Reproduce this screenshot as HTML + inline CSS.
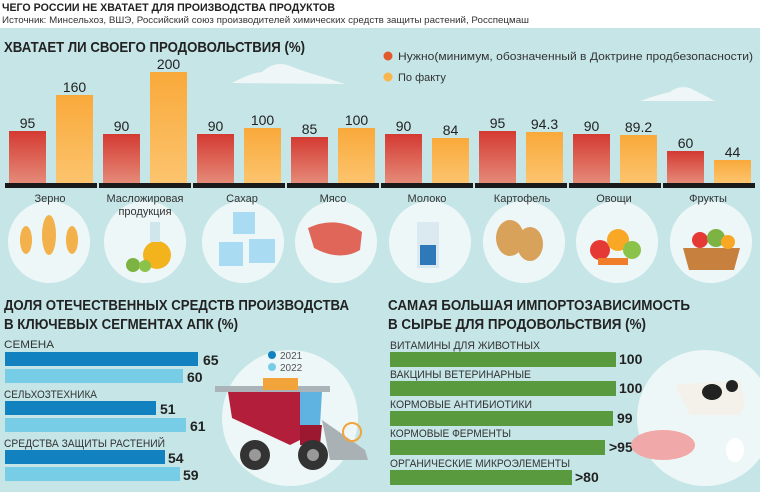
<!DOCTYPE html>
<html><head><meta charset="utf-8"><style>
body{margin:0;width:760px;height:487px;overflow:hidden;background:#c5e5e7;font-family:"Liberation Sans",sans-serif;}
</style></head><body>
<svg width="760" height="487" xmlns="http://www.w3.org/2000/svg" font-family="Liberation Sans, sans-serif">
<defs>
<linearGradient id="r" x1="0" y1="0" x2="0" y2="1"><stop offset="0" stop-color="#d43a32"/><stop offset="1" stop-color="#e58a78"/></linearGradient>
<linearGradient id="o" x1="0" y1="0" x2="0" y2="1"><stop offset="0" stop-color="#f9a93a"/><stop offset="1" stop-color="#fcc46e"/></linearGradient>
</defs>
<rect x="0" y="0" width="760" height="28" fill="#fff"/>
<text x="2" y="11" font-size="11" font-weight="bold" fill="#222" textLength="333" lengthAdjust="spacingAndGlyphs">ЧЕГО РОССИИ НЕ ХВАТАЕТ ДЛЯ ПРОИЗВОДСТВА ПРОДУКТОВ</text>
<text x="2" y="23" font-size="9.5" fill="#333" textLength="527" lengthAdjust="spacingAndGlyphs">Источник: Минсельхоз, ВШЭ, Российский союз производителей химических средств защиты растений, Росспецмаш</text>
<text x="4" y="52" font-size="15" font-weight="bold" fill="#222" textLength="301" lengthAdjust="spacingAndGlyphs">ХВАТАЕТ ЛИ СВОЕГО ПРОДОВОЛЬСТВИЯ (%)</text>
<path d="M232 83 Q250 73 262 72 Q275 60 290 66 Q305 72 320 76 L345 84 Z" fill="#eef6f7"/>
<path d="M640 101 Q660 94 670 92 Q678 85 690 88 Q700 93 715 101 Z" fill="#eef6f7"/>
<circle cx="388" cy="56" r="4.5" fill="#e2592b"/>
<text x="398" y="60" font-size="11" fill="#333" textLength="355" lengthAdjust="spacingAndGlyphs">Нужно(минимум, обозначенный в Доктрине продбезопасности)</text>
<circle cx="388" cy="77" r="4.5" fill="#f9b54a"/>
<text x="398" y="81" font-size="11" fill="#333">По факту</text>
<g font-size="14" fill="#222" text-anchor="middle">
<g>
<rect x="9" y="131" width="37" height="52" fill="url(#r)"/><text x="27.5" y="128">95</text>
<rect x="56" y="95" width="37" height="88" fill="url(#o)"/><text x="74.5" y="92">160</text>
</g>
<g transform="translate(94,0)">
<rect x="9" y="134" width="37" height="49" fill="url(#r)"/><text x="27.5" y="131">90</text>
<rect x="56" y="72" width="37" height="111" fill="url(#o)"/><text x="74.5" y="69">200</text>
</g>
<g transform="translate(188,0)">
<rect x="9" y="134" width="37" height="49" fill="url(#r)"/><text x="27.5" y="131">90</text>
<rect x="56" y="128" width="37" height="55" fill="url(#o)"/><text x="74.5" y="125">100</text>
</g>
<g transform="translate(282,0)">
<rect x="9" y="137" width="37" height="46" fill="url(#r)"/><text x="27.5" y="134">85</text>
<rect x="56" y="128" width="37" height="55" fill="url(#o)"/><text x="74.5" y="125">100</text>
</g>
<g transform="translate(376,0)">
<rect x="9" y="134" width="37" height="49" fill="url(#r)"/><text x="27.5" y="131">90</text>
<rect x="56" y="138" width="37" height="45" fill="url(#o)"/><text x="74.5" y="135">84</text>
</g>
<g transform="translate(470,0)">
<rect x="9" y="131" width="37" height="52" fill="url(#r)"/><text x="27.5" y="128">95</text>
<rect x="56" y="132" width="37" height="51" fill="url(#o)"/><text x="74.5" y="129">94.3</text>
</g>
<g transform="translate(564,0)">
<rect x="9" y="134" width="37" height="49" fill="url(#r)"/><text x="27.5" y="131">90</text>
<rect x="56" y="135" width="37" height="48" fill="url(#o)"/><text x="74.5" y="132">89.2</text>
</g>
<g transform="translate(658,0)">
<rect x="9" y="151" width="37" height="32" fill="url(#r)"/><text x="27.5" y="148">60</text>
<rect x="56" y="160" width="37" height="23" fill="url(#o)"/><text x="74.5" y="157">44</text>
</g>
</g>
<g fill="#1a1a1a">
<rect x="5" y="183" width="92" height="5"/><rect x="99" y="183" width="92" height="5"/><rect x="193" y="183" width="92" height="5"/><rect x="287" y="183" width="92" height="5"/><rect x="381" y="183" width="92" height="5"/><rect x="475" y="183" width="92" height="5"/><rect x="569" y="183" width="92" height="5"/><rect x="663" y="183" width="92" height="5"/>
</g>
<g fill="#eef7f8">
<circle cx="49" cy="242" r="41"/><circle cx="145" cy="242" r="41"/><circle cx="243" cy="242" r="41"/><circle cx="336" cy="242" r="41"/><circle cx="430" cy="242" r="41"/><circle cx="524" cy="242" r="41"/><circle cx="617" cy="242" r="41"/><circle cx="711" cy="242" r="41"/>
</g>
<g font-size="11" fill="#333" text-anchor="middle">
<text x="50" y="202">Зерно</text><text x="145" y="202">Масложировая</text><text x="145" y="215">продукция</text><text x="242" y="202">Сахар</text><text x="333" y="202">Мясо</text><text x="427" y="202">Молоко</text><text x="522" y="202">Картофель</text><text x="614" y="202">Овощи</text><text x="708" y="202">Фрукты</text>
</g>
<g fill="#f2b14a"><ellipse cx="26" cy="240" rx="6" ry="14"/><ellipse cx="49" cy="235" rx="7" ry="20"/><ellipse cx="72" cy="240" rx="6" ry="14"/></g>
<circle cx="157" cy="255" r="14" fill="#f3b31c"/><rect x="150" y="222" width="10" height="20" fill="#cfe6ec"/><circle cx="133" cy="265" r="7" fill="#7cb342"/><circle cx="145" cy="266" r="6" fill="#8bc34a"/>
<g fill="#a9dcf3"><rect x="233" y="212" width="22" height="22"/><rect x="219" y="242" width="24" height="24"/><rect x="249" y="239" width="26" height="24"/></g>
<path d="M308 228 Q336 215 362 232 L360 250 Q340 262 314 248 Z" fill="#e0665a"/>
<rect x="417" y="222" width="22" height="46" fill="#dbe9f0"/><rect x="420" y="245" width="16" height="20" fill="#2f79b8"/>
<g fill="#d9a25a"><ellipse cx="510" cy="238" rx="14" ry="18"/><ellipse cx="530" cy="244" rx="13" ry="17"/></g>
<circle cx="600" cy="250" r="10" fill="#e53935"/><circle cx="618" cy="240" r="11" fill="#f9a825"/><circle cx="632" cy="250" r="9" fill="#8bc34a"/><rect x="598" y="258" width="30" height="7" fill="#ef7d2a"/>
<path d="M683 248 L740 248 L734 270 L689 270 Z" fill="#c8803f"/><circle cx="700" cy="240" r="8" fill="#e53935"/><circle cx="716" cy="238" r="9" fill="#7cb342"/><circle cx="728" cy="242" r="7" fill="#f9a825"/>
<text x="4" y="310" font-size="14.5" font-weight="bold" fill="#222" textLength="345" lengthAdjust="spacingAndGlyphs">ДОЛЯ ОТЕЧЕСТВЕННЫХ СРЕДСТВ ПРОИЗВОДСТВА</text>
<text x="4" y="329" font-size="14.5" font-weight="bold" fill="#222" textLength="234" lengthAdjust="spacingAndGlyphs">В КЛЮЧЕВЫХ СЕГМЕНТАХ АПК (%)</text>
<g font-size="11" fill="#333"><text x="4" y="348" textLength="50" lengthAdjust="spacingAndGlyphs">СЕМЕНА</text><text x="4" y="398" textLength="93" lengthAdjust="spacingAndGlyphs">СЕЛЬХОЗТЕХНИКА</text><text x="4" y="447" textLength="161" lengthAdjust="spacingAndGlyphs">СРЕДСТВА ЗАЩИТЫ РАСТЕНИЙ</text></g>
<g fill="#1182bf"><rect x="5" y="352" width="193" height="14"/><rect x="5" y="401" width="151" height="14"/><rect x="5" y="450" width="160" height="14"/></g>
<g fill="#78cde6"><rect x="5" y="369" width="178" height="14"/><rect x="5" y="418" width="181" height="14"/><rect x="5" y="467" width="175" height="14"/></g>
<g font-size="14" font-weight="bold" fill="#222"><text x="203" y="365">65</text><text x="187" y="382">60</text><text x="160" y="414">51</text><text x="190" y="431">61</text><text x="168" y="463">54</text><text x="183" y="480">59</text></g>
<circle cx="290" cy="418" r="68" fill="#eef7f8"/>
<circle cx="272" cy="355" r="4" fill="#1182bf"/><text x="280" y="359" font-size="10" fill="#555">2021</text>
<circle cx="272" cy="367" r="4" fill="#78cde6"/><text x="280" y="371" font-size="10" fill="#555">2022</text>
<rect x="215" y="386" width="115" height="6" fill="#aab4b8"/>
<rect x="263" y="378" width="35" height="12" fill="#f2a43a"/>
<path d="M228 392 L300 392 L300 440 L290 445 L232 418 Z" fill="#b31f3a"/>
<path d="M300 392 L322 392 L320 425 L300 425 Z" fill="#5fb3e0"/>
<path d="M300 425 L322 425 L320 445 L300 445 Z" fill="#9b1830"/>
<path d="M322 420 L365 450 L368 460 L330 460 Z" fill="#a9b1b5"/>
<circle cx="352" cy="432" r="9" fill="none" stroke="#f2a43a" stroke-width="2"/>
<circle cx="255" cy="455" r="15" fill="#333"/><circle cx="255" cy="455" r="6" fill="#999"/>
<circle cx="313" cy="455" r="15" fill="#333"/><circle cx="313" cy="455" r="6" fill="#999"/>
<text x="388" y="310" font-size="14.5" font-weight="bold" fill="#222" textLength="302" lengthAdjust="spacingAndGlyphs">САМАЯ БОЛЬШАЯ ИМПОРТОЗАВИСИМОСТЬ</text>
<text x="388" y="329" font-size="14.5" font-weight="bold" fill="#222" textLength="258" lengthAdjust="spacingAndGlyphs">В СЫРЬЕ ДЛЯ ПРОДОВОЛЬСТВИЯ (%)</text>
<g font-size="11" fill="#333"><text x="390" y="349" textLength="150" lengthAdjust="spacingAndGlyphs">ВИТАМИНЫ ДЛЯ ЖИВОТНЫХ</text><text x="390" y="378" textLength="141" lengthAdjust="spacingAndGlyphs">ВАКЦИНЫ ВЕТЕРИНАРНЫЕ</text><text x="390" y="408" textLength="142" lengthAdjust="spacingAndGlyphs">КОРМОВЫЕ АНТИБИОТИКИ</text><text x="390" y="437" textLength="121" lengthAdjust="spacingAndGlyphs">КОРМОВЫЕ ФЕРМЕНТЫ</text><text x="390" y="467" textLength="180" lengthAdjust="spacingAndGlyphs">ОРГАНИЧЕСКИЕ МИКРОЭЛЕМЕНТЫ</text></g>
<g fill="#5a9a3f"><rect x="390" y="352" width="226" height="15"/><rect x="390" y="381" width="226" height="15"/><rect x="390" y="411" width="223" height="15"/><rect x="390" y="440" width="215" height="15"/><rect x="390" y="470" width="182" height="15"/></g>
<g font-size="14" font-weight="bold" fill="#222"><text x="619" y="364">100</text><text x="619" y="393">100</text><text x="617" y="423">99</text><text x="609" y="452">&gt;95</text><text x="575" y="482">&gt;80</text></g>
<circle cx="705" cy="418" r="68" fill="#eef7f8"/>
<path d="M675 385 L740 380 L745 405 L740 415 L690 415 Z" fill="#f4f0ea"/>
<ellipse cx="712" cy="392" rx="10" ry="8" fill="#222"/><ellipse cx="732" cy="386" rx="6" ry="6" fill="#222"/>
<ellipse cx="663" cy="445" rx="32" ry="15" fill="#f0a8a8"/>
<ellipse cx="735" cy="450" rx="9" ry="12" fill="#fff"/>
</svg>
</body></html>
